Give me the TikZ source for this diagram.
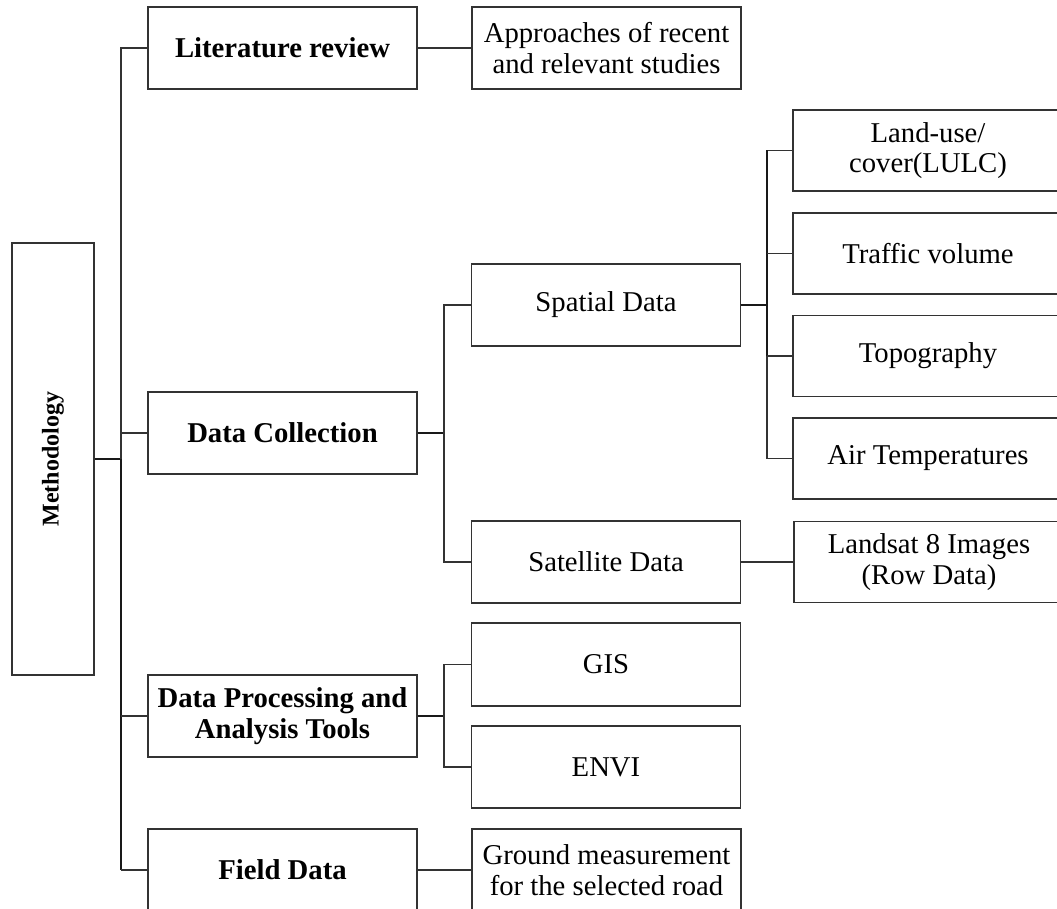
\documentclass[tikz,border=0pt]{standalone}
\usepackage{fontspec}
\setmainfont{Liberation Serif}
\begin{document}
\begin{tikzpicture}[x=1pt,y=-1pt,
  box/.style={draw=black!80, line width=1.3pt, fill=white, align=center, inner sep=0pt,
    minimum width=269pt, minimum height=82pt, font=\fontsize{28.7}{30.5}\selectfont},
  boldbox/.style={box, font=\fontsize{28.7}{31}\selectfont\bfseries},
  wide/.style={box, minimum width=270pt, minimum height=81pt},
  link/.style={draw=black!80, line width=1.3pt},
  hub/.style={draw=black!90, line width=1.6pt}]
\useasboundingbox (0,0) rectangle (1057,909);
\clip (0,0) rectangle (1057,909);

% root
\node[box, minimum width=82pt, minimum height=432pt] (meth) at (53,459)
  {\rotatebox{90}{\fontsize{24}{26}\selectfont\bfseries Methodology}};

% level 1
\node[boldbox] (lit)  at (282.5,48)  {Literature review};
\node[boldbox] (dc)   at (282.5,433) {Data Collection};
\node[boldbox] (dpat) at (282.5,716) {Data Processing and\\Analysis Tools};
\node[boldbox] (field) at (282.5,870) {Field Data};

% level 2
\node[box] (appr)  at (606.5,48)    {Approaches of recent\\and relevant studies};
\node[box] (spat)  at (606,305)     {Spatial Data};
\node[box] (sat)   at (606,562)     {Satellite Data};
\node[box, minimum height=83pt] (gis) at (606,664.5) {GIS};
\node[box] (envi)  at (606,767)     {ENVI};
\node[box] (ground) at (606.5,870)  {Ground measurement\\for the selected road};

% level 3
\node[wide] (lulc)    at (928,150.5) {Land-use/\\cover(LULC)};
\node[wide] (traffic) at (928,253.5) {Traffic volume};
\node[wide] (topo)    at (928,356)   {Topography};
\node[wide] (air)     at (928,458.5) {Air Temperatures};
\node[wide] (landsat) at (929,562)   {Landsat 8 Images\\(Row Data)};

% hub coordinates
\coordinate (tk)  at (121,459);
\coordinate (dch) at (444,433);
\coordinate (sph) at (767,305);
\coordinate (dph) at (444,716);

% trunk from Methodology
\draw[hub] (meth.east) -- (tk);
\draw[link] (lit.west) -- (lit.west -| tk) -- (tk);
\draw[hub] (tk) -- (field.west -| tk);
\draw[link] (field.west -| tk) -- (field.west);
\draw[link] (dc.west) -- (dc.west -| tk);
\draw[link] (dpat.west) -- (dpat.west -| tk);

% literature
\draw[link] (lit.east) -- (appr.west);

% data collection
\draw[hub] (dc.east) -- (dch);
\draw[link] (spat.west) -- (spat.west -| dch) -- (sat.west -| dch) -- (sat.west);

% spatial data
\draw[hub] (spat.east) -- (sph);
\draw[link] (lulc.west) -- (lulc.west -| sph) -- (air.west -| sph) -- (air.west);
\draw[hub] (lulc.west -| sph) -- (topo.west -| sph);
\draw[link] (traffic.west) -- (traffic.west -| sph);
\draw[link] (topo.west) -- (topo.west -| sph);

% satellite
\draw[link] (sat.east) -- (landsat.west);

% processing
\draw[hub] (dpat.east) -- (dph);
\draw[link] (gis.west) -- (gis.west -| dph) -- (envi.west -| dph) -- (envi.west);

% field
\draw[link] (field.east) -- (ground.west);
\end{tikzpicture}
\end{document}
